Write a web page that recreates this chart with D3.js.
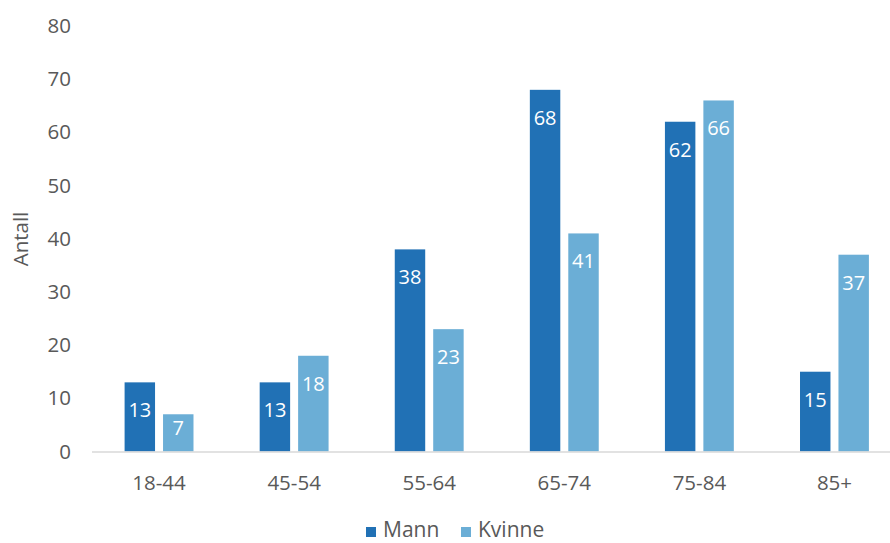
<!DOCTYPE html>
<html>
<head>
<meta charset="utf-8">
<script src="https://cdn.jsdelivr.net/npm/d3@7"></script>
<style>
  html, body { margin: 0; padding: 0; background: #fff; }
  svg { display: block; font-family: "Open Sans", "Noto Sans", sans-serif; }
</style>
</head>
<body>
<svg id="chart" width="890" height="543"></svg>
<script>
// Age groups and counts per sex
const categories = ["18-44", "45-54", "55-64", "65-74", "75-84", "85+"];
const series = ["Mann", "Kvinne"];
const mann = [13, 13, 38, 68, 62, 15];
const kvinne = [7, 18, 23, 41, 66, 37];
const yTicks = [0, 10, 20, 30, 40, 50, 60, 70, 80];
const colors = ["#2171b5", "#6baed6"];

const svg = d3.select("#chart");

const x = d3.scaleBand().domain(categories).range([91.5, 902]);
const y = d3.scaleLinear().domain([0, 80]).range([451.5, 26]);

// Two bars per age group, centred in each band
const groupW = x.bandwidth() * 0.51;
const xs = d3.scaleBand().domain(series).range([-groupW / 2, groupW / 2]).paddingInner(0.208);
const color = d3.scaleOrdinal().domain(series).range(colors);

const rows = categories.map((c, i) => ({ cat: c, values: [
  { key: "Mann", value: mann[i] },
  { key: "Kvinne", value: kvinne[i] }
]}));

// Y axis labels (no axis line, no gridlines)
const yAxis = d3.axisLeft(y).tickValues(yTicks).tickSize(0).tickPadding(0);
svg.append("g")
  .attr("transform", "translate(71,0)")
  .call(yAxis)
  .call(g => g.select(".domain").remove())
  .call(g => g.selectAll("text")
    .attr("fill", "#595959")
    .style("font-size", "20.5px")
    .style("font-family", "'Open Sans', sans-serif"));

// Bars
const groups = svg.append("g").selectAll("g")
  .data(rows).join("g")
  .attr("transform", d => `translate(${x(d.cat) + x.bandwidth() / 2},0)`);

groups.selectAll("rect")
  .data(d => d.values).join("rect")
  .attr("x", d => xs(d.key))
  .attr("width", xs.bandwidth())
  .attr("y", d => y(d.value))
  .attr("height", d => y(0) - y(d.value))
  .attr("fill", d => color(d.key));

// Value labels inside the top of each bar
groups.selectAll("text")
  .data(d => d.values).join("text")
  .attr("x", d => xs(d.key) + xs.bandwidth() / 2)
  .attr("y", d => {
    const h = y(0) - y(d.value);
    return y(d.value) + Math.min(28, h - 24);
  })
  .attr("dy", "0.35em")
  .attr("text-anchor", "middle")
  .attr("fill", "#ffffff")
  .style("font-size", "20px")
  .text(d => d.value);

// X axis baseline and category labels
const xAxis = d3.axisBottom(x).tickSize(0).tickPadding(0);
svg.append("g")
  .attr("transform", `translate(0,${y(0)})`)
  .call(xAxis)
  .call(g => g.select(".domain").attr("stroke", "#d9d9d9").attr("stroke-width", 1.5))
  .call(g => g.selectAll("text")
    .attr("y", 31)
    .attr("dy", "0.35em")
    .attr("fill", "#595959")
    .style("font-size", "20.5px")
    .style("font-family", "'Open Sans', sans-serif"));

// Y axis title
svg.append("text")
  .attr("transform", "translate(21,239) rotate(-90)")
  .attr("text-anchor", "middle")
  .attr("dy", "0.35em")
  .attr("fill", "#595959")
  .style("font-size", "20.5px")
  .text("Antall");

// Legend
const legendItems = [{ key: "Mann", x: 366 }, { key: "Kvinne", x: 461 }];
const legend = svg.append("g").selectAll("g")
  .data(legendItems).join("g")
  .attr("transform", d => `translate(${d.x},527)`);
legend.append("rect")
  .attr("width", 10).attr("height", 10)
  .attr("fill", d => color(d.key));
legend.append("text")
  .attr("x", 17).attr("y", 10)
  .attr("fill", "#595959")
  .style("font-size", "21px")
  .text(d => d.key);
</script>
</body>
</html>
